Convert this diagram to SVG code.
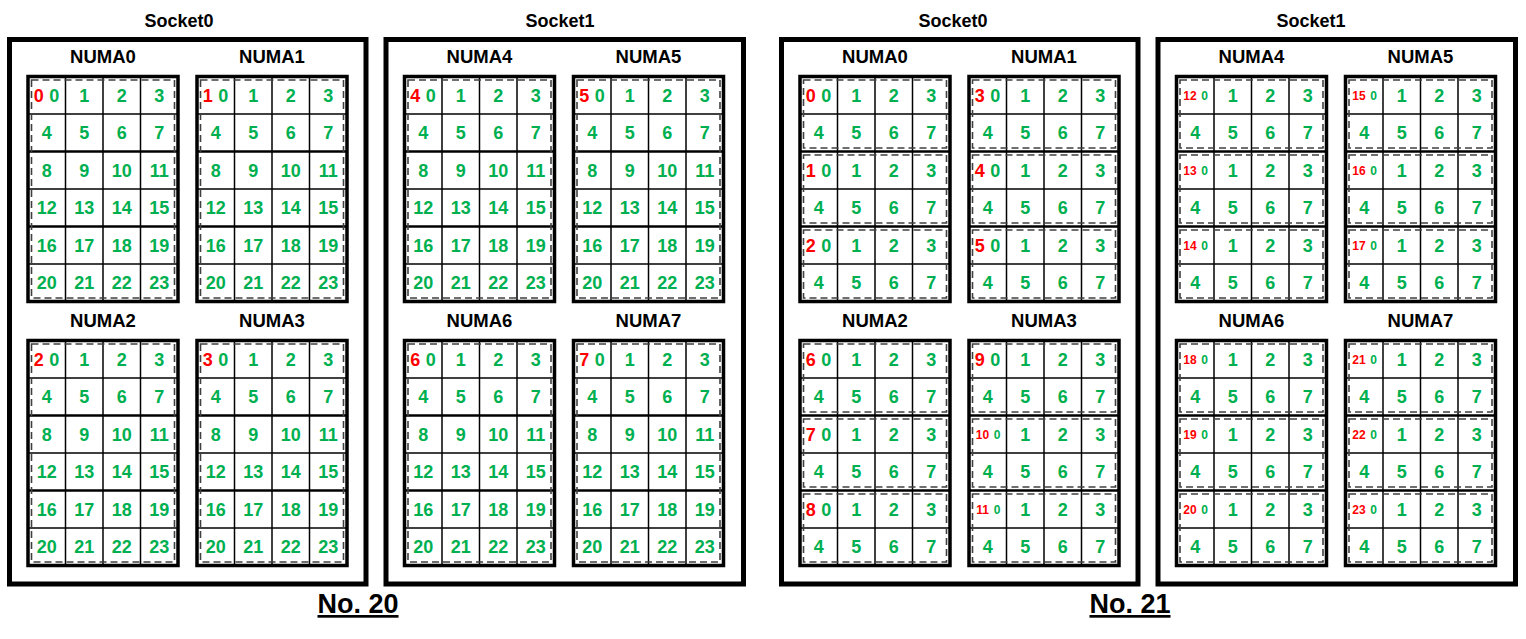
<svg xmlns="http://www.w3.org/2000/svg" xmlns:xlink="http://www.w3.org/1999/xlink" width="1526" height="639" viewBox="0 0 1526 639">
<style>
text{font-family:"Liberation Sans",Arial,sans-serif;font-weight:bold;text-anchor:middle}
.g{fill:#00B050;font-size:18px}
.r{fill:#FF0000;font-size:18px}
.gs{fill:#00B050;font-size:12px}
.rs{fill:#FF0000;font-size:12px}
.lbl{fill:#000;font-size:18.5px}
.sl{fill:#000;font-size:18px}
.no{fill:#000;font-size:27px;text-decoration:underline}
.sock{fill:none;stroke:#000;stroke-width:5}
.thin{stroke:#000;stroke-width:1.5}
.grp{stroke:#000;stroke-width:2.5}
.bord{fill:none;stroke:#000;stroke-width:3.5}
.dash{fill:none;stroke:#404040;stroke-width:1.6;stroke-dasharray:7 4}
</style>
<defs>
<g id="grid">
<line class="thin" x1="37.5" y1="0" x2="37.5" y2="225"/>
<line class="thin" x1="75" y1="0" x2="75" y2="225"/>
<line class="thin" x1="112.5" y1="0" x2="112.5" y2="225"/>
<line class="thin" x1="0" y1="37.5" x2="150" y2="37.5"/>
<line class="grp" x1="0" y1="75" x2="150" y2="75"/>
<line class="thin" x1="0" y1="112.5" x2="150" y2="112.5"/>
<line class="grp" x1="0" y1="150" x2="150" y2="150"/>
<line class="thin" x1="0" y1="187.5" x2="150" y2="187.5"/>
<rect class="bord" x="0" y="0" width="150" height="225"/>
</g>
<g id="d20"><rect class="dash" x="3.5" y="3.5" width="143" height="218"/></g>
<g id="d21">
<rect class="dash" x="3.5" y="3.5" width="143" height="68"/>
<rect class="dash" x="3.5" y="78.5" width="143" height="68"/>
<rect class="dash" x="3.5" y="153.5" width="143" height="68"/>
</g>
</defs>
<rect x="0" y="0" width="1526" height="639" fill="#fff"/>

<!-- ===== No. 20 ===== -->
<g id="no20-socket0">
<rect class="sock" x="9.5" y="39.5" width="356.5" height="544.5"/>
<text class="sl" x="179" y="27">Socket0</text>
</g>
<g id="no20-socket1">
<rect class="sock" x="386" y="39.5" width="357.5" height="544.5"/>
<text class="sl" x="560" y="27">Socket1</text>
</g>

<g id="no20-numa0" transform="translate(28,76.5)">
<use href="#grid"/><use href="#d20"/>
<text class="lbl" x="75" y="-13.5">NUMA0</text>
<text class="r" x="10.8" y="25">0</text>
<text class="g" y="25"><tspan x="26.3">0</tspan><tspan x="56.25">1</tspan><tspan x="93.75">2</tspan><tspan x="131.25">3</tspan></text>
<text class="g" y="62.5"><tspan x="18.75">4</tspan><tspan x="56.25">5</tspan><tspan x="93.75">6</tspan><tspan x="131.25">7</tspan></text>
<text class="g" y="100"><tspan x="18.75">8</tspan><tspan x="56.25">9</tspan><tspan x="93.75">10</tspan><tspan x="131.25">11</tspan></text>
<text class="g" y="137.5"><tspan x="18.75">12</tspan><tspan x="56.25">13</tspan><tspan x="93.75">14</tspan><tspan x="131.25">15</tspan></text>
<text class="g" y="175"><tspan x="18.75">16</tspan><tspan x="56.25">17</tspan><tspan x="93.75">18</tspan><tspan x="131.25">19</tspan></text>
<text class="g" y="212.5"><tspan x="18.75">20</tspan><tspan x="56.25">21</tspan><tspan x="93.75">22</tspan><tspan x="131.25">23</tspan></text>
</g>
<g id="no20-numa1" transform="translate(197,76.5)">
<use href="#grid"/><use href="#d20"/>
<text class="lbl" x="75" y="-13.5">NUMA1</text>
<text class="r" x="10.8" y="25">1</text>
<text class="g" y="25"><tspan x="26.3">0</tspan><tspan x="56.25">1</tspan><tspan x="93.75">2</tspan><tspan x="131.25">3</tspan></text>
<text class="g" y="62.5"><tspan x="18.75">4</tspan><tspan x="56.25">5</tspan><tspan x="93.75">6</tspan><tspan x="131.25">7</tspan></text>
<text class="g" y="100"><tspan x="18.75">8</tspan><tspan x="56.25">9</tspan><tspan x="93.75">10</tspan><tspan x="131.25">11</tspan></text>
<text class="g" y="137.5"><tspan x="18.75">12</tspan><tspan x="56.25">13</tspan><tspan x="93.75">14</tspan><tspan x="131.25">15</tspan></text>
<text class="g" y="175"><tspan x="18.75">16</tspan><tspan x="56.25">17</tspan><tspan x="93.75">18</tspan><tspan x="131.25">19</tspan></text>
<text class="g" y="212.5"><tspan x="18.75">20</tspan><tspan x="56.25">21</tspan><tspan x="93.75">22</tspan><tspan x="131.25">23</tspan></text>
</g>
<g id="no20-numa2" transform="translate(28,340.5)">
<use href="#grid"/><use href="#d20"/>
<text class="lbl" x="75" y="-13.5">NUMA2</text>
<text class="r" x="10.8" y="25">2</text>
<text class="g" y="25"><tspan x="26.3">0</tspan><tspan x="56.25">1</tspan><tspan x="93.75">2</tspan><tspan x="131.25">3</tspan></text>
<text class="g" y="62.5"><tspan x="18.75">4</tspan><tspan x="56.25">5</tspan><tspan x="93.75">6</tspan><tspan x="131.25">7</tspan></text>
<text class="g" y="100"><tspan x="18.75">8</tspan><tspan x="56.25">9</tspan><tspan x="93.75">10</tspan><tspan x="131.25">11</tspan></text>
<text class="g" y="137.5"><tspan x="18.75">12</tspan><tspan x="56.25">13</tspan><tspan x="93.75">14</tspan><tspan x="131.25">15</tspan></text>
<text class="g" y="175"><tspan x="18.75">16</tspan><tspan x="56.25">17</tspan><tspan x="93.75">18</tspan><tspan x="131.25">19</tspan></text>
<text class="g" y="212.5"><tspan x="18.75">20</tspan><tspan x="56.25">21</tspan><tspan x="93.75">22</tspan><tspan x="131.25">23</tspan></text>
</g>
<g id="no20-numa3" transform="translate(197,340.5)">
<use href="#grid"/><use href="#d20"/>
<text class="lbl" x="75" y="-13.5">NUMA3</text>
<text class="r" x="10.8" y="25">3</text>
<text class="g" y="25"><tspan x="26.3">0</tspan><tspan x="56.25">1</tspan><tspan x="93.75">2</tspan><tspan x="131.25">3</tspan></text>
<text class="g" y="62.5"><tspan x="18.75">4</tspan><tspan x="56.25">5</tspan><tspan x="93.75">6</tspan><tspan x="131.25">7</tspan></text>
<text class="g" y="100"><tspan x="18.75">8</tspan><tspan x="56.25">9</tspan><tspan x="93.75">10</tspan><tspan x="131.25">11</tspan></text>
<text class="g" y="137.5"><tspan x="18.75">12</tspan><tspan x="56.25">13</tspan><tspan x="93.75">14</tspan><tspan x="131.25">15</tspan></text>
<text class="g" y="175"><tspan x="18.75">16</tspan><tspan x="56.25">17</tspan><tspan x="93.75">18</tspan><tspan x="131.25">19</tspan></text>
<text class="g" y="212.5"><tspan x="18.75">20</tspan><tspan x="56.25">21</tspan><tspan x="93.75">22</tspan><tspan x="131.25">23</tspan></text>
</g>
<g id="no20-numa4" transform="translate(404.5,76.5)">
<use href="#grid"/><use href="#d20"/>
<text class="lbl" x="75" y="-13.5">NUMA4</text>
<text class="r" x="10.8" y="25">4</text>
<text class="g" y="25"><tspan x="26.3">0</tspan><tspan x="56.25">1</tspan><tspan x="93.75">2</tspan><tspan x="131.25">3</tspan></text>
<text class="g" y="62.5"><tspan x="18.75">4</tspan><tspan x="56.25">5</tspan><tspan x="93.75">6</tspan><tspan x="131.25">7</tspan></text>
<text class="g" y="100"><tspan x="18.75">8</tspan><tspan x="56.25">9</tspan><tspan x="93.75">10</tspan><tspan x="131.25">11</tspan></text>
<text class="g" y="137.5"><tspan x="18.75">12</tspan><tspan x="56.25">13</tspan><tspan x="93.75">14</tspan><tspan x="131.25">15</tspan></text>
<text class="g" y="175"><tspan x="18.75">16</tspan><tspan x="56.25">17</tspan><tspan x="93.75">18</tspan><tspan x="131.25">19</tspan></text>
<text class="g" y="212.5"><tspan x="18.75">20</tspan><tspan x="56.25">21</tspan><tspan x="93.75">22</tspan><tspan x="131.25">23</tspan></text>
</g>
<g id="no20-numa5" transform="translate(573.5,76.5)">
<use href="#grid"/><use href="#d20"/>
<text class="lbl" x="75" y="-13.5">NUMA5</text>
<text class="r" x="10.8" y="25">5</text>
<text class="g" y="25"><tspan x="26.3">0</tspan><tspan x="56.25">1</tspan><tspan x="93.75">2</tspan><tspan x="131.25">3</tspan></text>
<text class="g" y="62.5"><tspan x="18.75">4</tspan><tspan x="56.25">5</tspan><tspan x="93.75">6</tspan><tspan x="131.25">7</tspan></text>
<text class="g" y="100"><tspan x="18.75">8</tspan><tspan x="56.25">9</tspan><tspan x="93.75">10</tspan><tspan x="131.25">11</tspan></text>
<text class="g" y="137.5"><tspan x="18.75">12</tspan><tspan x="56.25">13</tspan><tspan x="93.75">14</tspan><tspan x="131.25">15</tspan></text>
<text class="g" y="175"><tspan x="18.75">16</tspan><tspan x="56.25">17</tspan><tspan x="93.75">18</tspan><tspan x="131.25">19</tspan></text>
<text class="g" y="212.5"><tspan x="18.75">20</tspan><tspan x="56.25">21</tspan><tspan x="93.75">22</tspan><tspan x="131.25">23</tspan></text>
</g>
<g id="no20-numa6" transform="translate(404.5,340.5)">
<use href="#grid"/><use href="#d20"/>
<text class="lbl" x="75" y="-13.5">NUMA6</text>
<text class="r" x="10.8" y="25">6</text>
<text class="g" y="25"><tspan x="26.3">0</tspan><tspan x="56.25">1</tspan><tspan x="93.75">2</tspan><tspan x="131.25">3</tspan></text>
<text class="g" y="62.5"><tspan x="18.75">4</tspan><tspan x="56.25">5</tspan><tspan x="93.75">6</tspan><tspan x="131.25">7</tspan></text>
<text class="g" y="100"><tspan x="18.75">8</tspan><tspan x="56.25">9</tspan><tspan x="93.75">10</tspan><tspan x="131.25">11</tspan></text>
<text class="g" y="137.5"><tspan x="18.75">12</tspan><tspan x="56.25">13</tspan><tspan x="93.75">14</tspan><tspan x="131.25">15</tspan></text>
<text class="g" y="175"><tspan x="18.75">16</tspan><tspan x="56.25">17</tspan><tspan x="93.75">18</tspan><tspan x="131.25">19</tspan></text>
<text class="g" y="212.5"><tspan x="18.75">20</tspan><tspan x="56.25">21</tspan><tspan x="93.75">22</tspan><tspan x="131.25">23</tspan></text>
</g>
<g id="no20-numa7" transform="translate(573.5,340.5)">
<use href="#grid"/><use href="#d20"/>
<text class="lbl" x="75" y="-13.5">NUMA7</text>
<text class="r" x="10.8" y="25">7</text>
<text class="g" y="25"><tspan x="26.3">0</tspan><tspan x="56.25">1</tspan><tspan x="93.75">2</tspan><tspan x="131.25">3</tspan></text>
<text class="g" y="62.5"><tspan x="18.75">4</tspan><tspan x="56.25">5</tspan><tspan x="93.75">6</tspan><tspan x="131.25">7</tspan></text>
<text class="g" y="100"><tspan x="18.75">8</tspan><tspan x="56.25">9</tspan><tspan x="93.75">10</tspan><tspan x="131.25">11</tspan></text>
<text class="g" y="137.5"><tspan x="18.75">12</tspan><tspan x="56.25">13</tspan><tspan x="93.75">14</tspan><tspan x="131.25">15</tspan></text>
<text class="g" y="175"><tspan x="18.75">16</tspan><tspan x="56.25">17</tspan><tspan x="93.75">18</tspan><tspan x="131.25">19</tspan></text>
<text class="g" y="212.5"><tspan x="18.75">20</tspan><tspan x="56.25">21</tspan><tspan x="93.75">22</tspan><tspan x="131.25">23</tspan></text>
</g>
<text id="label-no20" class="no" x="358" y="613">No. 20</text>

<!-- ===== No. 21 ===== -->
<g id="no21-socket0">
<rect class="sock" x="781.5" y="39.5" width="356.5" height="544.5"/>
<text class="sl" x="953" y="27">Socket0</text>
</g>
<g id="no21-socket1">
<rect class="sock" x="1158" y="39.5" width="357.5" height="544.5"/>
<text class="sl" x="1311" y="27">Socket1</text>
</g>

<g id="no21-numa0" transform="translate(800,76.5)">
<use href="#grid"/><use href="#d21"/>
<text class="lbl" x="75" y="-13.5">NUMA0</text>
<text class="r" x="10.8" y="25">0</text>
<text class="g" y="25"><tspan x="26.3">0</tspan><tspan x="56.25">1</tspan><tspan x="93.75">2</tspan><tspan x="131.25">3</tspan></text>
<text class="g" y="62.5"><tspan x="18.75">4</tspan><tspan x="56.25">5</tspan><tspan x="93.75">6</tspan><tspan x="131.25">7</tspan></text>
<text class="r" x="10.8" y="100">1</text>
<text class="g" y="100"><tspan x="26.3">0</tspan><tspan x="56.25">1</tspan><tspan x="93.75">2</tspan><tspan x="131.25">3</tspan></text>
<text class="g" y="137.5"><tspan x="18.75">4</tspan><tspan x="56.25">5</tspan><tspan x="93.75">6</tspan><tspan x="131.25">7</tspan></text>
<text class="r" x="10.8" y="175">2</text>
<text class="g" y="175"><tspan x="26.3">0</tspan><tspan x="56.25">1</tspan><tspan x="93.75">2</tspan><tspan x="131.25">3</tspan></text>
<text class="g" y="212.5"><tspan x="18.75">4</tspan><tspan x="56.25">5</tspan><tspan x="93.75">6</tspan><tspan x="131.25">7</tspan></text>
</g>
<g id="no21-numa1" transform="translate(969,76.5)">
<use href="#grid"/><use href="#d21"/>
<text class="lbl" x="75" y="-13.5">NUMA1</text>
<text class="r" x="10.8" y="25">3</text>
<text class="g" y="25"><tspan x="26.3">0</tspan><tspan x="56.25">1</tspan><tspan x="93.75">2</tspan><tspan x="131.25">3</tspan></text>
<text class="g" y="62.5"><tspan x="18.75">4</tspan><tspan x="56.25">5</tspan><tspan x="93.75">6</tspan><tspan x="131.25">7</tspan></text>
<text class="r" x="10.8" y="100">4</text>
<text class="g" y="100"><tspan x="26.3">0</tspan><tspan x="56.25">1</tspan><tspan x="93.75">2</tspan><tspan x="131.25">3</tspan></text>
<text class="g" y="137.5"><tspan x="18.75">4</tspan><tspan x="56.25">5</tspan><tspan x="93.75">6</tspan><tspan x="131.25">7</tspan></text>
<text class="r" x="10.8" y="175">5</text>
<text class="g" y="175"><tspan x="26.3">0</tspan><tspan x="56.25">1</tspan><tspan x="93.75">2</tspan><tspan x="131.25">3</tspan></text>
<text class="g" y="212.5"><tspan x="18.75">4</tspan><tspan x="56.25">5</tspan><tspan x="93.75">6</tspan><tspan x="131.25">7</tspan></text>
</g>
<g id="no21-numa2" transform="translate(800,340.5)">
<use href="#grid"/><use href="#d21"/>
<text class="lbl" x="75" y="-13.5">NUMA2</text>
<text class="r" x="10.8" y="25">6</text>
<text class="g" y="25"><tspan x="26.3">0</tspan><tspan x="56.25">1</tspan><tspan x="93.75">2</tspan><tspan x="131.25">3</tspan></text>
<text class="g" y="62.5"><tspan x="18.75">4</tspan><tspan x="56.25">5</tspan><tspan x="93.75">6</tspan><tspan x="131.25">7</tspan></text>
<text class="r" x="10.8" y="100">7</text>
<text class="g" y="100"><tspan x="26.3">0</tspan><tspan x="56.25">1</tspan><tspan x="93.75">2</tspan><tspan x="131.25">3</tspan></text>
<text class="g" y="137.5"><tspan x="18.75">4</tspan><tspan x="56.25">5</tspan><tspan x="93.75">6</tspan><tspan x="131.25">7</tspan></text>
<text class="r" x="10.8" y="175">8</text>
<text class="g" y="175"><tspan x="26.3">0</tspan><tspan x="56.25">1</tspan><tspan x="93.75">2</tspan><tspan x="131.25">3</tspan></text>
<text class="g" y="212.5"><tspan x="18.75">4</tspan><tspan x="56.25">5</tspan><tspan x="93.75">6</tspan><tspan x="131.25">7</tspan></text>
</g>
<g id="no21-numa3" transform="translate(969,340.5)">
<use href="#grid"/><use href="#d21"/>
<text class="lbl" x="75" y="-13.5">NUMA3</text>
<text class="r" x="10.8" y="25">9</text>
<text class="g" y="25"><tspan x="26.3">0</tspan><tspan x="56.25">1</tspan><tspan x="93.75">2</tspan><tspan x="131.25">3</tspan></text>
<text class="g" y="62.5"><tspan x="18.75">4</tspan><tspan x="56.25">5</tspan><tspan x="93.75">6</tspan><tspan x="131.25">7</tspan></text>
<text class="rs" x="13.5" y="98.5">10</text><text class="gs" x="28" y="98.5">0</text>
<text class="g" y="100"><tspan x="56.25">1</tspan><tspan x="93.75">2</tspan><tspan x="131.25">3</tspan></text>
<text class="g" y="137.5"><tspan x="18.75">4</tspan><tspan x="56.25">5</tspan><tspan x="93.75">6</tspan><tspan x="131.25">7</tspan></text>
<text class="rs" x="13.5" y="173.5">11</text><text class="gs" x="28" y="173.5">0</text>
<text class="g" y="175"><tspan x="56.25">1</tspan><tspan x="93.75">2</tspan><tspan x="131.25">3</tspan></text>
<text class="g" y="212.5"><tspan x="18.75">4</tspan><tspan x="56.25">5</tspan><tspan x="93.75">6</tspan><tspan x="131.25">7</tspan></text>
</g>
<g id="no21-numa4" transform="translate(1176.5,76.5)">
<use href="#grid"/><use href="#d21"/>
<text class="lbl" x="75" y="-13.5">NUMA4</text>
<text class="rs" x="13.5" y="23.5">12</text><text class="gs" x="28" y="23.5">0</text>
<text class="g" y="25"><tspan x="56.25">1</tspan><tspan x="93.75">2</tspan><tspan x="131.25">3</tspan></text>
<text class="g" y="62.5"><tspan x="18.75">4</tspan><tspan x="56.25">5</tspan><tspan x="93.75">6</tspan><tspan x="131.25">7</tspan></text>
<text class="rs" x="13.5" y="98.5">13</text><text class="gs" x="28" y="98.5">0</text>
<text class="g" y="100"><tspan x="56.25">1</tspan><tspan x="93.75">2</tspan><tspan x="131.25">3</tspan></text>
<text class="g" y="137.5"><tspan x="18.75">4</tspan><tspan x="56.25">5</tspan><tspan x="93.75">6</tspan><tspan x="131.25">7</tspan></text>
<text class="rs" x="13.5" y="173.5">14</text><text class="gs" x="28" y="173.5">0</text>
<text class="g" y="175"><tspan x="56.25">1</tspan><tspan x="93.75">2</tspan><tspan x="131.25">3</tspan></text>
<text class="g" y="212.5"><tspan x="18.75">4</tspan><tspan x="56.25">5</tspan><tspan x="93.75">6</tspan><tspan x="131.25">7</tspan></text>
</g>
<g id="no21-numa5" transform="translate(1345.5,76.5)">
<use href="#grid"/><use href="#d21"/>
<text class="lbl" x="75" y="-13.5">NUMA5</text>
<text class="rs" x="13.5" y="23.5">15</text><text class="gs" x="28" y="23.5">0</text>
<text class="g" y="25"><tspan x="56.25">1</tspan><tspan x="93.75">2</tspan><tspan x="131.25">3</tspan></text>
<text class="g" y="62.5"><tspan x="18.75">4</tspan><tspan x="56.25">5</tspan><tspan x="93.75">6</tspan><tspan x="131.25">7</tspan></text>
<text class="rs" x="13.5" y="98.5">16</text><text class="gs" x="28" y="98.5">0</text>
<text class="g" y="100"><tspan x="56.25">1</tspan><tspan x="93.75">2</tspan><tspan x="131.25">3</tspan></text>
<text class="g" y="137.5"><tspan x="18.75">4</tspan><tspan x="56.25">5</tspan><tspan x="93.75">6</tspan><tspan x="131.25">7</tspan></text>
<text class="rs" x="13.5" y="173.5">17</text><text class="gs" x="28" y="173.5">0</text>
<text class="g" y="175"><tspan x="56.25">1</tspan><tspan x="93.75">2</tspan><tspan x="131.25">3</tspan></text>
<text class="g" y="212.5"><tspan x="18.75">4</tspan><tspan x="56.25">5</tspan><tspan x="93.75">6</tspan><tspan x="131.25">7</tspan></text>
</g>
<g id="no21-numa6" transform="translate(1176.5,340.5)">
<use href="#grid"/><use href="#d21"/>
<text class="lbl" x="75" y="-13.5">NUMA6</text>
<text class="rs" x="13.5" y="23.5">18</text><text class="gs" x="28" y="23.5">0</text>
<text class="g" y="25"><tspan x="56.25">1</tspan><tspan x="93.75">2</tspan><tspan x="131.25">3</tspan></text>
<text class="g" y="62.5"><tspan x="18.75">4</tspan><tspan x="56.25">5</tspan><tspan x="93.75">6</tspan><tspan x="131.25">7</tspan></text>
<text class="rs" x="13.5" y="98.5">19</text><text class="gs" x="28" y="98.5">0</text>
<text class="g" y="100"><tspan x="56.25">1</tspan><tspan x="93.75">2</tspan><tspan x="131.25">3</tspan></text>
<text class="g" y="137.5"><tspan x="18.75">4</tspan><tspan x="56.25">5</tspan><tspan x="93.75">6</tspan><tspan x="131.25">7</tspan></text>
<text class="rs" x="13.5" y="173.5">20</text><text class="gs" x="28" y="173.5">0</text>
<text class="g" y="175"><tspan x="56.25">1</tspan><tspan x="93.75">2</tspan><tspan x="131.25">3</tspan></text>
<text class="g" y="212.5"><tspan x="18.75">4</tspan><tspan x="56.25">5</tspan><tspan x="93.75">6</tspan><tspan x="131.25">7</tspan></text>
</g>
<g id="no21-numa7" transform="translate(1345.5,340.5)">
<use href="#grid"/><use href="#d21"/>
<text class="lbl" x="75" y="-13.5">NUMA7</text>
<text class="rs" x="13.5" y="23.5">21</text><text class="gs" x="28" y="23.5">0</text>
<text class="g" y="25"><tspan x="56.25">1</tspan><tspan x="93.75">2</tspan><tspan x="131.25">3</tspan></text>
<text class="g" y="62.5"><tspan x="18.75">4</tspan><tspan x="56.25">5</tspan><tspan x="93.75">6</tspan><tspan x="131.25">7</tspan></text>
<text class="rs" x="13.5" y="98.5">22</text><text class="gs" x="28" y="98.5">0</text>
<text class="g" y="100"><tspan x="56.25">1</tspan><tspan x="93.75">2</tspan><tspan x="131.25">3</tspan></text>
<text class="g" y="137.5"><tspan x="18.75">4</tspan><tspan x="56.25">5</tspan><tspan x="93.75">6</tspan><tspan x="131.25">7</tspan></text>
<text class="rs" x="13.5" y="173.5">23</text><text class="gs" x="28" y="173.5">0</text>
<text class="g" y="175"><tspan x="56.25">1</tspan><tspan x="93.75">2</tspan><tspan x="131.25">3</tspan></text>
<text class="g" y="212.5"><tspan x="18.75">4</tspan><tspan x="56.25">5</tspan><tspan x="93.75">6</tspan><tspan x="131.25">7</tspan></text>
</g>
<text id="label-no21" class="no" x="1130" y="613">No. 21</text>
<g id="connectors"/>
</svg>
